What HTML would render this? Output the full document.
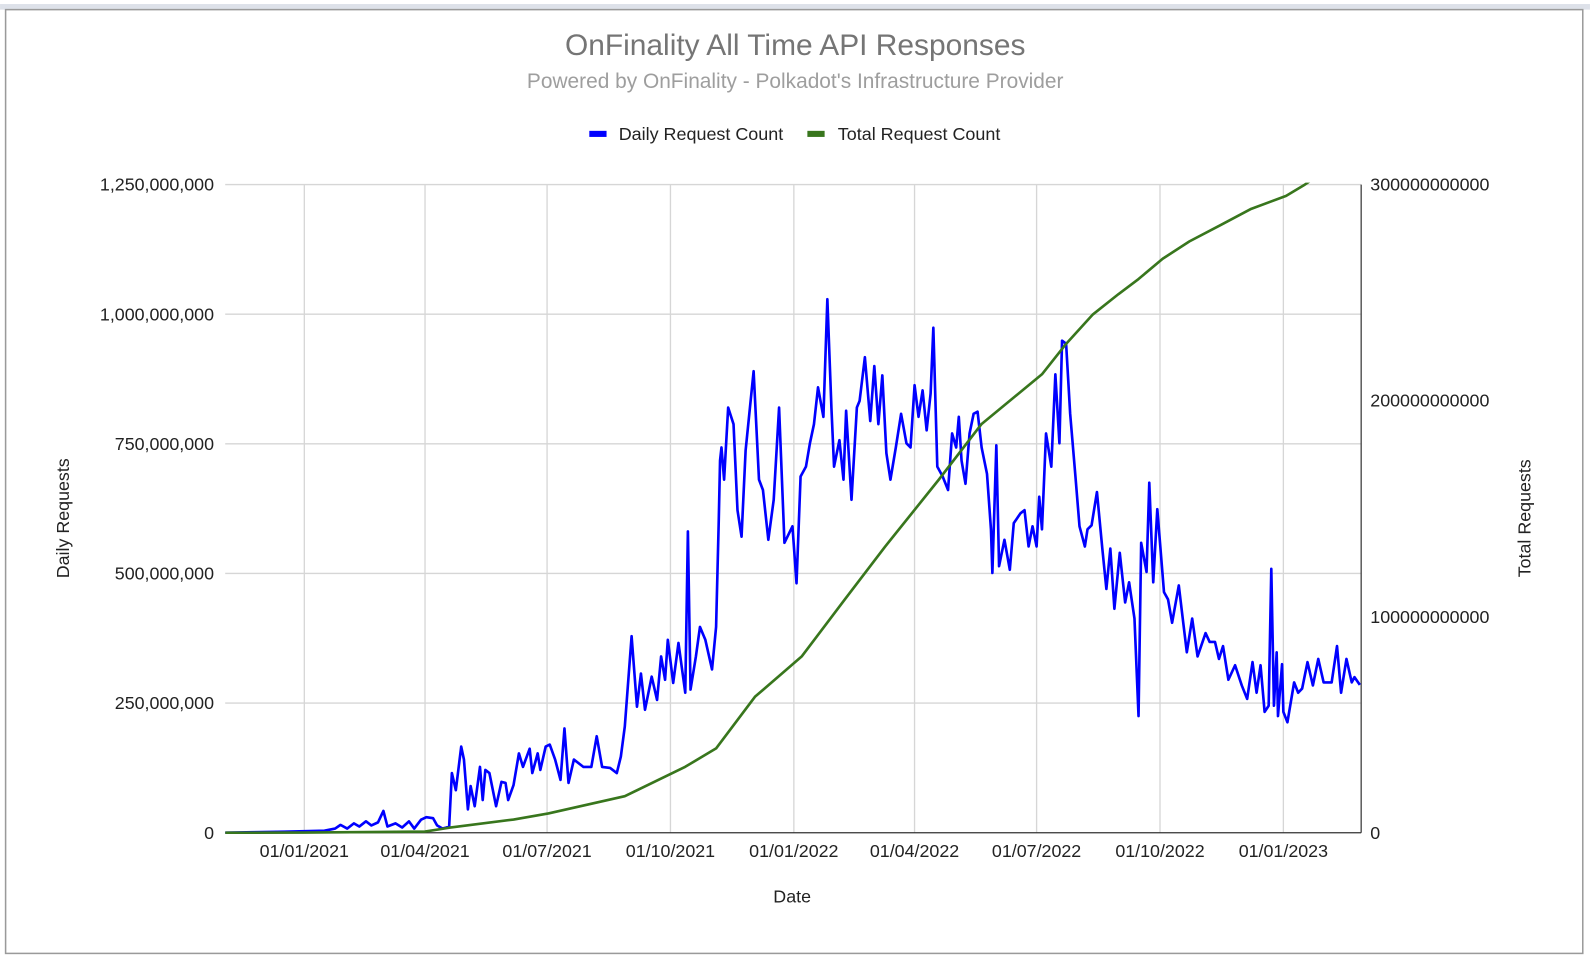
<!DOCTYPE html>
<html><head><meta charset="utf-8">
<style>
html,body{margin:0;padding:0;background:#fff;width:1590px;height:960px;overflow:hidden}
svg{display:block;font-family:"Liberation Sans",Arial,sans-serif}
</style></head>
<body>
<svg id="chart" width="1590" height="960" viewBox="0 0 1567.6 946.5" xmlns="http://www.w3.org/2000/svg">
  <rect x="0" y="0" width="1567.6" height="946.5" fill="#fff"/>
  <rect x="0" y="4" width="1567.6" height="5.5" fill="#dde1e9"/>
  <rect x="5.5" y="9.5" width="1555" height="930.5" fill="none" stroke="#9a9a9a" stroke-width="1.5"/>
  <text x="784" y="54" text-anchor="middle" font-size="29.5" fill="#757575">OnFinality All Time API Responses</text>
  <text x="784" y="87" text-anchor="middle" font-size="20.6" fill="#9e9e9e">Powered by OnFinality - Polkadot's Infrastructure Provider</text>
  <g>
    <g>
      <rect x="581" y="129" width="17" height="6" fill="#0000ff"/>
      <text x="610" y="138" font-size="17.7" fill="#222">Daily Request Count</text>
    </g>
    <g>
      <rect x="796" y="129" width="17" height="6" fill="#38761d"/>
      <text x="826" y="138" font-size="17.7" fill="#222">Total Request Count</text>
    </g>
  </g>
  <g id="grid"></g>
  <g id="axes"></g>
  <defs><clipPath id="plotclip"><rect x="222" y="180" width="1120" height="645"/></clipPath></defs>
  <g id="series" clip-path="url(#plotclip)"></g>
  <text transform="translate(68,511) rotate(-90)" text-anchor="middle" font-size="17.6" fill="#222">Daily Requests</text>
  <text transform="translate(1509,511) rotate(-90)" text-anchor="middle" font-size="17.6" fill="#222">Total Requests</text>
  <text x="781" y="890" text-anchor="middle" font-size="17.6" fill="#222">Date</text>
</svg>
<script>
// Days since 2020-11-03
const dailyDays = [0,21,44,59,74,82,86,91,96,100,105,109,114,118,121,127,132,137,141,146,150,155,158,162,165,
167,169,172,176,178,181,183,186,190,192,194,197,202,206,209,211,215,219,222,227,229,233,235,239,242,246,250,253,256,260,267,273,277,281,287,292,295,298,303,307,310,313,318,322,325,328,330,334,338,343,345,347,351,354,358,363,366,368,369,
370,372,375,379,382,385,388,394,398,401,405,409,413,417,423,426,429,433,436,439,442,446,449,452,454,458,461,463,467,471,473,477,481,484,487,490,493,496,500,504,508,511,514,517,520,523,526,528,531,535,539,542,545,547,549,552,555,558,561,564,568,571,572,575,577,581,585,588,593,596,599,602,605,607,609,612,616,619,622,624,627,630,634,637,641,643,
646,650,654,657,660,663,667,671,674,678,681,683,687,689,692,695,700,703,706,711,714,717,721,725,731,734,738,741,744,748,753,758,762,766,769,772,775,778,780,782,784,785,788,789,792,797,800,803,807,811,815,819,825,829,832,836,840,842,846];
// Daily request count, millions
const dailyValues = [0,1,2,3,4,8,15,8,18,12,22,14,20,42,12,18,10,22,8,25,30,28,14,8,10,
12,115,82,166,141,45,90,51,127,63,121,115,51,98,96,63,92,153,127,162,115,153,121,166,170,141,102,201,96,141,127,127,186,127,125,115,147,205,379,243,307,237,301,256,340,295,372,289,366,270,581,276,340,397,372,315,397,600,718,
743,681,820,788,622,571,737,890,681,661,565,642,820,559,591,481,687,706,751,788,859,802,1029,820,706,757,681,814,642,820,833,917,794,900,788,882,732,681,743,808,751,743,863,802,853,776,847,974,706,687,661,770,743,802,718,673,770,808,812,743,692,585,501,747,514,565,507,597,616,622,552,591,552,648,585,770,706,884,751,949,943,808,687,591,552,585,
593,657,548,470,548,432,540,444,483,413,225,559,503,675,483,624,464,450,405,477,413,348,413,340,385,368,368,335,360,295,323,284,258,329,270,323,233,245,509,245,348,225,325,233,213,290,270,278,329,284,335,290,290,360,270,335,290,300,285];
const totalDays = [0,59,149,167,215,241,298,343,366,395,430,462,492,532,564,609,627,647,666,681,699,719,742,765,791,805,847];
// Total request count, billions
const totalValues = [0,0.1,0.5,2.3,6.1,8.9,16.9,30.5,39,62.9,81.7,108,132.4,163.4,189.2,212.2,226.3,239.9,249.3,256.3,265.7,273.7,281.2,288.8,294.8,300,318];
const xTickDays = [59,149,240,332,424,514,605,697,789];
const xTickLabels = ["01/01/2021","01/04/2021","01/07/2021","01/10/2021","01/01/2022","01/04/2022","01/07/2022","01/10/2022","01/01/2023"];
const leftTicks = [0,250,500,750,1000,1250];
const leftTickLabels = ["0","250,000,000","500,000,000","750,000,000","1,000,000,000","1,250,000,000"];
const rightTicks = [0,100,200,300];
const rightTickLabels = ["0","100000000000","200000000000","300000000000"];

const NS = "http://www.w3.org/2000/svg";
const X0 = 222, X1 = 1342, Y0 = 821, Y1 = 182, DMAX = 847;
const xs = d => X0 + d / DMAX * (X1 - X0);
const yl = v => Y0 - v / 1250 * (Y0 - Y1);
const yr = v => Y0 - v / 300 * (Y0 - Y1);
function mk(tag, attrs, parent) {
  const e = document.createElementNS(NS, tag);
  for (const k in attrs) e.setAttribute(k, attrs[k]);
  parent.appendChild(e);
  return e;
}
const grid = document.getElementById('grid');
const axes = document.getElementById('axes');
const series = document.getElementById('series');

leftTicks.forEach((v, i) => {
  if (v > 0) {
    const g = mk('line', {x1: X0, x2: X1, y1: yl(v), y2: yl(v), stroke: '#d6d6d6', 'stroke-width': 1.3}, grid);
    
    
  }
  const t = mk('text', {x: 211, y: yl(v) + 6, 'text-anchor': 'end', 'font-size': 17.6, fill: '#222'}, axes);
  t.textContent = leftTickLabels[i];
  
  
});
rightTicks.forEach((v, i) => {
  const t = mk('text', {x: 1351, y: yr(v) + 6, 'font-size': 17.6, fill: '#222'}, axes);
  t.textContent = rightTickLabels[i];
  
  
});
xTickDays.forEach((d, i) => {
  const g = mk('line', {x1: xs(d), x2: xs(d), y1: Y1, y2: Y0, stroke: '#d6d6d6', 'stroke-width': 1.3}, grid);
  
  
  const t = mk('text', {x: xs(d), y: 845, 'text-anchor': 'middle', 'font-size': 17.6, fill: '#222'}, axes);
  t.textContent = xTickLabels[i];
  
  
});
const xa = mk('line', {x1: X0, x2: X1, y1: Y0, y2: Y0, stroke: '#333', 'stroke-width': 1.2}, axes);


const ra = mk('line', {x1: X1, x2: X1, y1: Y1, y2: Y0, stroke: '#333', 'stroke-width': 1.2}, axes);



const dPts = dailyDays.map((d, i) => xs(d).toFixed(1) + ',' + yl(dailyValues[i]).toFixed(1)).join(' ');
const dl = mk('polyline', {points: dPts, fill: 'none', stroke: '#0000ff', 'stroke-width': 2.6, 'stroke-linejoin': 'round'}, series);


const tPts = totalDays.map((d, i) => xs(d).toFixed(1) + ',' + yr(totalValues[i]).toFixed(1)).join(' ');
const tl = mk('polyline', {points: tPts, fill: 'none', stroke: '#38761d', 'stroke-width': 2.6, 'stroke-linejoin': 'round'}, series);


</script>
</body></html>
